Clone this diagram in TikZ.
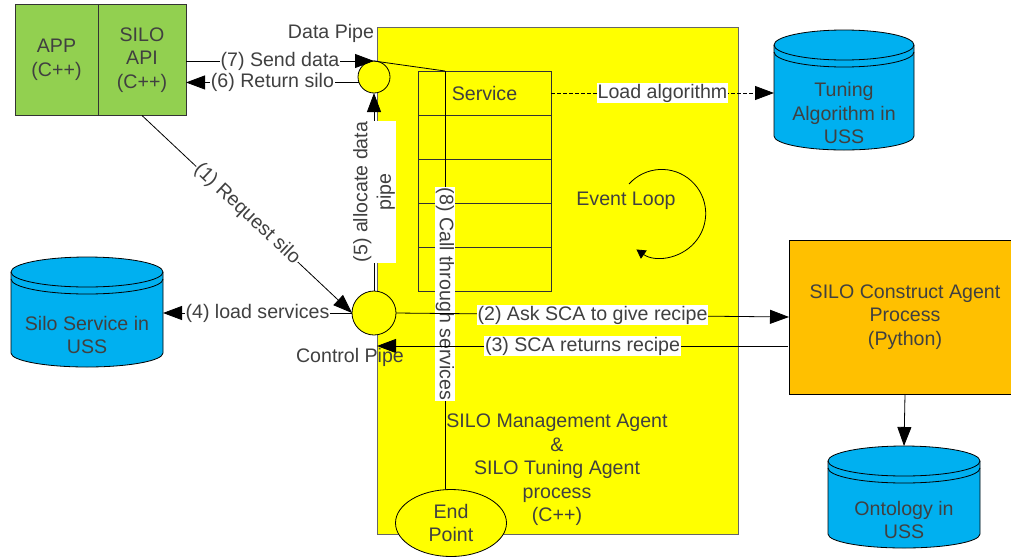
\documentclass[tikz,border=0pt]{standalone}
\usepackage{fontspec}
\setmainfont{Liberation Sans}
\usetikzlibrary{arrows.meta,positioning,shapes.geometric}
\definecolor{inkgrey}{HTML}{404040}
\definecolor{boxgreen}{HTML}{92D050}
\definecolor{drumblue}{HTML}{00B0F0}
\definecolor{agentorange}{HTML}{FFC000}
\definecolor{mainyellow}{HTML}{FFFF00}
\newcommand{\drum}[6]{%
\draw [black,fill=drumblue] (#2,#3+15) arc[x radius=#4/2,y radius=15,start angle=180,end angle=360]
  -- (#2+#4,#3+#5-14) arc[x radius=#4/2,y radius=14,start angle=0,end angle=180] -- cycle;
\draw [black] (#2,#3+15) arc[x radius=#4/2,y radius=15,start angle=180,end angle=0];
\draw [black] (#2,#3+22) arc[x radius=#4/2,y radius=15,start angle=180,end angle=0];
\node [minimum width=#4,minimum height=#5,inner sep=0,outer sep=0] (#1) at (#2+#4/2,#3+#5/2) {};
\node [align=center] at (#2+#4/2,#3+#5/2+23) {#6};
}
\begin{document}
\begin{tikzpicture}[x=1pt,y=-1pt,line width=.8pt,>={Triangle[length=19pt,width=14pt]},
  every node/.style={font=\fontsize{19.6}{23.5}\selectfont,text=inkgrey},
  lbl/.style={fill=white,inner sep=1pt,align=center},
  solidbox/.style={draw=black!80,align=center,outer sep=0,inner sep=0},
  rowbox/.style={draw=black!80,outer sep=0,inner sep=0,minimum width=133,minimum height=44},
  pipe/.style={circle,draw=black,fill=mainyellow,inner sep=0,outer sep=0}]
\useasboundingbox (0,0) rectangle (1011,557);
\draw [black!60,fill=mainyellow,line width=1pt] (377,27) rectangle (738,534);
\node [solidbox,fill=boxgreen,minimum width=83,minimum height=111] (app) at (56.5,60) {APP\\(C++)};
\node [solidbox,fill=boxgreen,minimum width=88,minimum height=111,right=0pt of app] (api) {SILO\\API\\(C++)};
\node [rowbox] (row1) at (484.5,93) {Service};
\foreach \i/\j in {2/1,3/2,4/3,5/4} \node [rowbox,below=0pt of row\j] (row\i) {};
\drum{tuning}{774}{30}{140}{120}{Tuning\\Algorithm in\\USS}
\drum{silo}{11}{257}{152}{110}{Silo Service in\\USS}
\drum{onto}{828}{446}{152}{102}{Ontology in\\USS}
\node [solidbox,draw=black,fill=agentorange,minimum width=232,minimum height=154] (agent) at (905,317) {SILO Construct Agent\\Process\\(Python)};
\node [pipe,minimum size=32] (data) at (374,77) {};
\node [pipe,minimum size=44] (control) at (374,313) {};
\coordinate (callfrom) at (445,71);
\coordinate (back) at (788,346);
\node [inner sep=0] (datalbl) at (331,33) {Data Pipe};
\node [align=center,inner sep=0] (mainlbl) at (557,470) {SILO Management Agent\\\&\\SILO Tuning Agent\\process\\(C++)};
\node [inner sep=0] (looplbl) at (626,201) {Event Loop};
\draw [black] (data.north) -- (callfrom);
\draw [black] (callfrom) -- node [lbl,rotate=-90,pos=.53] {(8) Call through services} (callfrom |- 0,492);
\node [ellipse,draw=black,fill=mainyellow,minimum width=111,minimum height=67,inner sep=0,align=center] (endpoint) at (451,523) {End\\Point};
\draw [black,->] (api.east |- data.north) -- node [lbl] {(7) Send data} (data.north);
\draw [black,->] (data.200) -- node [lbl] {(6) Return silo} (api.east |- data.200);
\draw [black,->] (api.south) -- node [lbl,sloped] {(1) Request silo} (control.west);
\draw [black,->] (control.west) -- node [lbl] {(4) load services} (silo.east |- control.west);
\draw [black,->] (control.east) -- node [lbl] {(2) Ask SCA to give recipe} (agent.west);
\draw [black,->] (back) -- node [lbl] {(3) SCA returns recipe} (377,346);
\draw [black,->] (control.north) -- node [lbl,rotate=90] {(5) allocate data\\pipe} (data.south);
\draw [black,dash pattern=on 4pt off 2pt,->] (row1.east) -- node [lbl] {Load algorithm} (row1.east -| tuning.west);
\draw [black,->] (agent.south) -- (onto.north);
\draw [black,-{Triangle[length=9pt,width=10pt]}] (629,184) arc[start angle=-138,end angle=125,radius=44];
\node [inner sep=0] (ctrllbl) at (350,357) {Control Pipe};
\end{tikzpicture}
\end{document}
